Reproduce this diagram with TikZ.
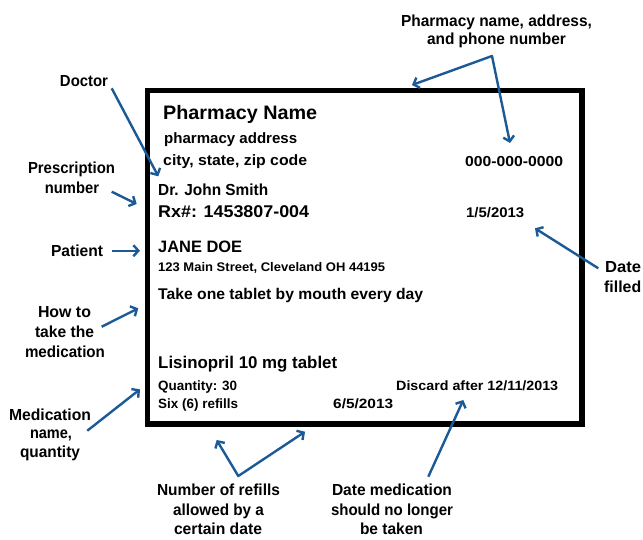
\documentclass[tikz,border=0pt]{standalone}
\usepackage{fontspec}
\setmainfont{Liberation Sans}
\usepackage{graphicx}
\usetikzlibrary{arrows.meta}
\definecolor{arrowblue}{HTML}{1B5A96}
\newsavebox\cwbox
\newlength\cwlen
% \cw{font size}{target width in pt}{text}
\newcommand\cw[3]{\sbox\cwbox{\fontsize{#1}{#1}\selectfont\bfseries #3}\setlength\cwlen{\wd\cwbox}\pgfmathsetmacro\cwr{#2/\cwlen}\scalebox{\cwr}[1]{\usebox\cwbox}}
\begin{document}
\begin{tikzpicture}[x=1pt,y=-1pt,
  txt/.style={inner sep=0pt,anchor=base west},
  lbl/.style={inner sep=0pt,anchor=base},
  pointer/.style={draw=arrowblue,line width=2.4pt,line join=round,-{Straight Barb[length=5pt,width=11pt]}},
  vpointer/.style={draw=arrowblue,line width=2.4pt,line join=round,{Straight Barb[length=5pt,width=11pt]}-{Straight Barb[length=5pt,width=11pt]}}]
\useasboundingbox (0,0) rectangle (643,539);
\fill[white] (0,0) rectangle (643,539);

% the label card
\node[draw,line width=5.5pt,inner sep=0pt,outer sep=0pt,minimum width=434.5pt,minimum height=333.5pt] (card) at (364.75,257.25) {};

% card texts
\node[txt] (pname) at (163,119) {\cw{19.5}{154}{Pharmacy Name}};
\node[txt] (paddr) at (164,143) {\cw{15}{133}{pharmacy address}};
\node[txt] (pcity) at (163,165) {\cw{15}{144}{city, state, zip code}};
\node[txt] (phone) at (465,166) {\cw{14.5}{98}{000-000-0000}};
\node[txt] (doc) at (158,195) {\cw{16}{110}{Dr. John Smith}};
\node[txt] (rx) at (158,217) {\cw{17}{151}{Rx\#: 1453807-004}};
\node[txt] (filled) at (466,217) {\cw{14}{58}{1/5/2013}};
\node[txt] (pat) at (158,252) {\cw{16.5}{84}{JANE DOE}};
\node[txt] (addr) at (158,271) {\cw{12.5}{227}{123 Main Street, Cleveland OH 44195}};
\node[txt] (take) at (158,299) {\cw{15.5}{265}{Take one tablet by mouth every day}};
\node[txt] (med) at (158,368) {\cw{17}{179}{Lisinopril 10 mg tablet}};
\node[txt] (qty) at (158,390) {\cw{13.5}{79}{Quantity: 30}};
\node[txt] (disc) at (396,390) {\cw{13.5}{162}{Discard after 12/11/2013}};
\node[txt] (refl) at (158,408) {\cw{13.5}{80}{Six (6) refills}};
\node[txt] (rdate) at (333,408) {\cw{13.5}{60}{6/5/2013}};

% outside labels
\node[lbl] (lpn1) at (496.5,26) {\cw{16}{191}{Pharmacy name, address,}};
\node[lbl] (lpn2) at (496.5,44) {\cw{16}{139}{and phone number}};
\node[lbl] (ldoc) at (84,86) {\cw{16}{48}{Doctor}};
\node[lbl] (lrx1) at (71.5,173) {\cw{16}{87}{Prescription}};
\node[lbl] (lrx2) at (72,193) {\cw{16}{54}{number}};
\node[lbl] (lpat) at (77,256) {\cw{16}{52}{Patient}};
\node[lbl] (lhow1) at (64.5,317) {\cw{16}{53}{How to}};
\node[lbl] (lhow2) at (64.5,337) {\cw{16}{59}{take the}};
\node[lbl] (lhow3) at (65,357) {\cw{16}{80}{medication}};
\node[lbl] (lmed1) at (50,420) {\cw{16}{82}{Medication}};
\node[lbl] (lmed2) at (51,438) {\cw{16}{42}{name,}};
\node[lbl] (lmed3) at (50,457) {\cw{16}{60}{quantity}};
\node[lbl] (lref1) at (218.5,495) {\cw{16}{123}{Number of refills}};
\node[lbl] (lref2) at (218.5,515) {\cw{16}{91}{allowed by a}};
\node[lbl] (lref3) at (218,534.5) {\cw{16}{88}{certain date}};
\node[lbl] (ldis1) at (392,495) {\cw{16}{120}{Date medication}};
\node[lbl] (ldis2) at (392,515) {\cw{16}{122}{should no longer}};
\node[lbl] (ldis3) at (391.5,534.5) {\cw{16}{63}{be taken}};
\node[txt] (ldat1) at (605,272) {\cw{16}{36}{Date}};
\node[txt] (ldat2) at (604,292) {\cw{16}{37}{filled}};

% connector end points
\coordinate (pnapex) at (492,56);
\coordinate (pntipA) at (412,85);
\coordinate (pntipB) at (510,143);
\coordinate (docS) at (111.7,88.3);
\coordinate (docT) at (158.3,176.3);
\coordinate (rxS) at (111.7,191.7);
\coordinate (rxT) at (136.7,204);
\coordinate (patS) at (111.7,250.7);
\coordinate (patT) at (140,250.7);
\coordinate (howS) at (101.7,326.7);
\coordinate (howT) at (138.3,308.3);
\coordinate (medS) at (87.3,430.7);
\coordinate (medT) at (140,389.3);
\coordinate (refapex) at (238.3,476);
\coordinate (reftipA) at (216.7,440);
\coordinate (reftipB) at (305,431.7);
\coordinate (disS) at (428.3,476.7);
\coordinate (disT) at (463.3,400);
\coordinate (datS) at (598.3,268.3);
\coordinate (datT) at (535,228.3);

% connectors
\draw[vpointer] (pntipA) -- (pnapex) -- (pntipB);
\draw[pointer] (docS) -- (docT);
\draw[pointer] (rxS) -- (rxT);
\draw[pointer] (patS) -- (patT);
\draw[pointer] (howS) -- (howT);
\draw[pointer] (medS) -- (medT);
\draw[vpointer] (reftipA) -- (refapex) -- (reftipB);
\draw[pointer] (disS) -- (disT);
\draw[pointer] (datS) -- (datT);
\end{tikzpicture}
\end{document}
